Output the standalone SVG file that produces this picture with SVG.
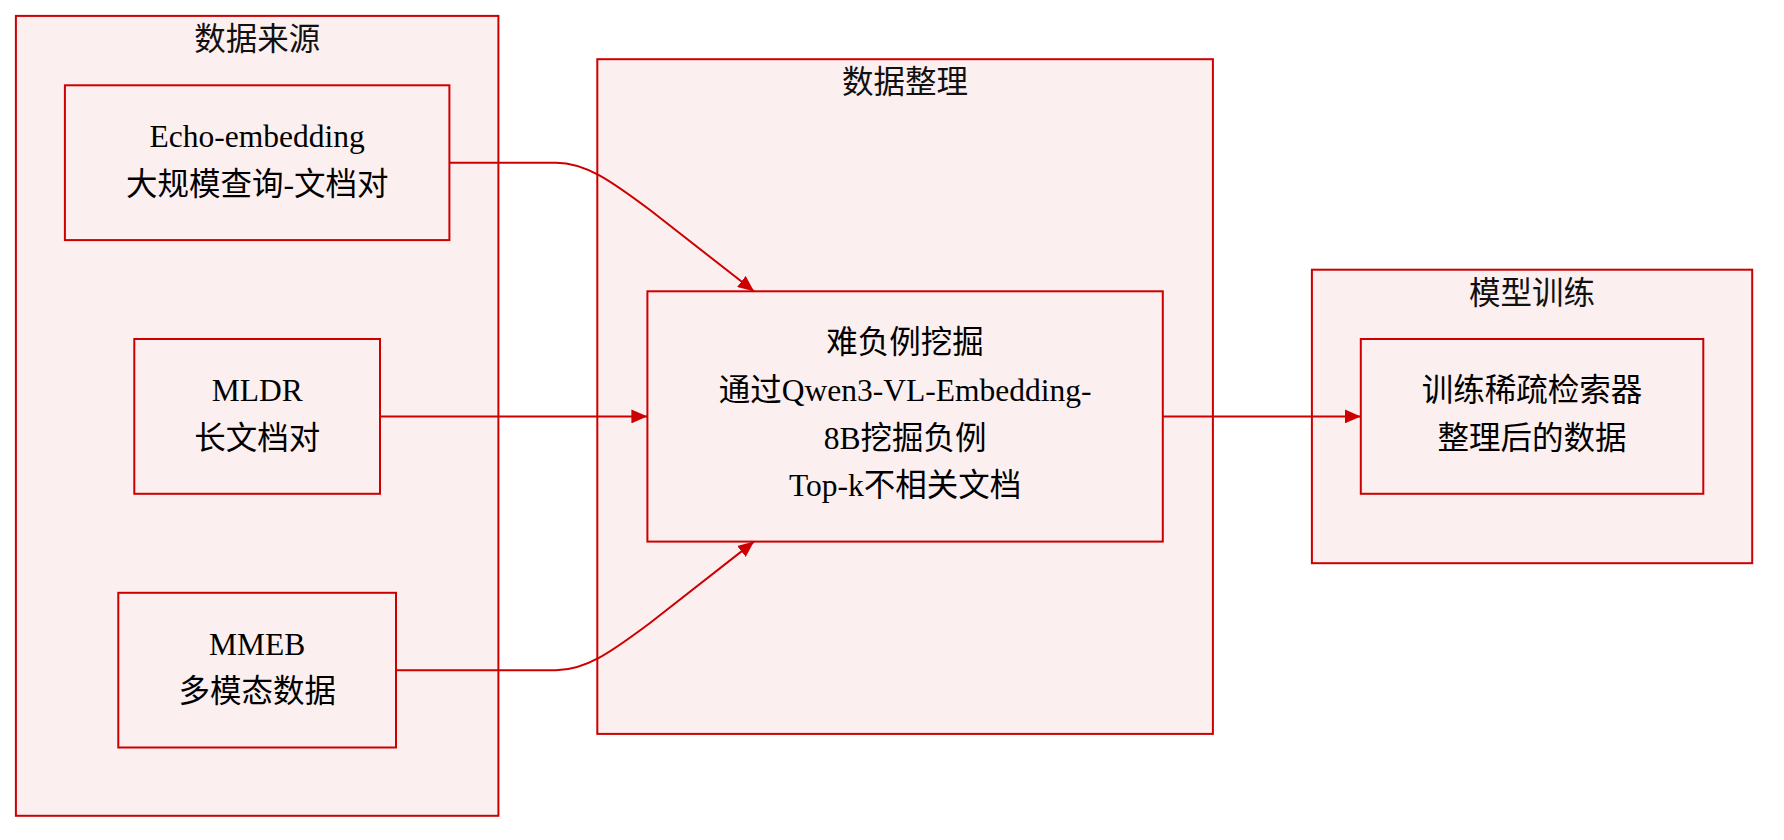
<svg xmlns="http://www.w3.org/2000/svg" width="1784" height="840" viewBox="0 0 1784 840">
<style>
.cluster{fill:#fcefef;stroke:#cc0000;stroke-width:2}
.node{fill:#fcefef;stroke:#cc0000;stroke-width:2}
.title{font-family:"Noto Sans CJK SC","Liberation Sans",sans-serif;font-size:31.5px;fill:#111;text-anchor:middle}
.lbl{font-family:"Liberation Serif","Noto Sans CJK SC",serif;font-size:31.5px;fill:#000;text-anchor:middle}
.edge{fill:none;stroke:#cc0000;stroke-width:2}
</style>
<defs>
<marker id="arrow" markerUnits="userSpaceOnUse" viewBox="0 0 16 14" markerWidth="16" markerHeight="14" refX="16" refY="7" orient="auto">
<path d="M0,0 L16,7 L0,14 z" fill="#cc0000"/>
</marker>
</defs>
<rect width="1784" height="840" fill="#ffffff"/>
<g id="cluster-sources">
<rect class="cluster" x="15.9" y="15.9" width="482.5" height="799.9"/>
<text class="title" x="257.2" y="49.8">数据来源</text>
</g>
<g id="cluster-processing">
<rect class="cluster" x="597.3" y="59.2" width="615.6" height="674.7"/>
<text class="title" x="905.1" y="93.2">数据整理</text>
</g>
<g id="cluster-training">
<rect class="cluster" x="1311.9" y="269.7" width="440.3" height="293.5"/>
<text class="title" x="1532" y="303.5">模型训练</text>
</g>
<g id="edges">
<path class="edge" d="M449.4,162.7 L556,162.7 C585,162.7 610,180 650,210 L754,291.3" marker-end="url(#arrow)"/>
<path class="edge" d="M380,416.4 L647.4,416.4" marker-end="url(#arrow)"/>
<path class="edge" d="M396,670.2 L556,670.2 C585,670.2 610,653 650,623 L754,541.6" marker-end="url(#arrow)"/>
<path class="edge" d="M1162.8,416.4 L1360.8,416.4" marker-end="url(#arrow)"/>
</g>
<g id="node-echo">
<rect class="node" x="64.9" y="85.3" width="384.5" height="154.8"/>
<text class="lbl" x="257.2" y="147.2">Echo-embedding</text>
<text class="lbl" x="257.2" y="194.9">大规模查询-文档对</text>
</g>
<g id="node-mldr">
<rect class="node" x="134.3" y="339" width="245.7" height="154.8"/>
<text class="lbl" x="257.2" y="401">MLDR</text>
<text class="lbl" x="257.2" y="448.7">长文档对</text>
</g>
<g id="node-mmeb">
<rect class="node" x="118.3" y="592.8" width="277.7" height="154.7"/>
<text class="lbl" x="257.2" y="654.7">MMEB</text>
<text class="lbl" x="257.2" y="702.4">多模态数据</text>
</g>
<g id="node-hardneg">
<rect class="node" x="647.4" y="291.3" width="515.4" height="250.3"/>
<text class="lbl" x="905.1" y="353.3">难负例挖掘</text>
<text class="lbl" x="905.1" y="401">通过Qwen3-VL-Embedding-</text>
<text class="lbl" x="905.1" y="448.7">8B挖掘负例</text>
<text class="lbl" x="905.1" y="496.4">Top-k不相关文档</text>
</g>
<g id="node-train">
<rect class="node" x="1360.8" y="339" width="342.5" height="154.8"/>
<text class="lbl" x="1532" y="401">训练稀疏检索器</text>
<text class="lbl" x="1532" y="448.7">整理后的数据</text>
</g>
</svg>
